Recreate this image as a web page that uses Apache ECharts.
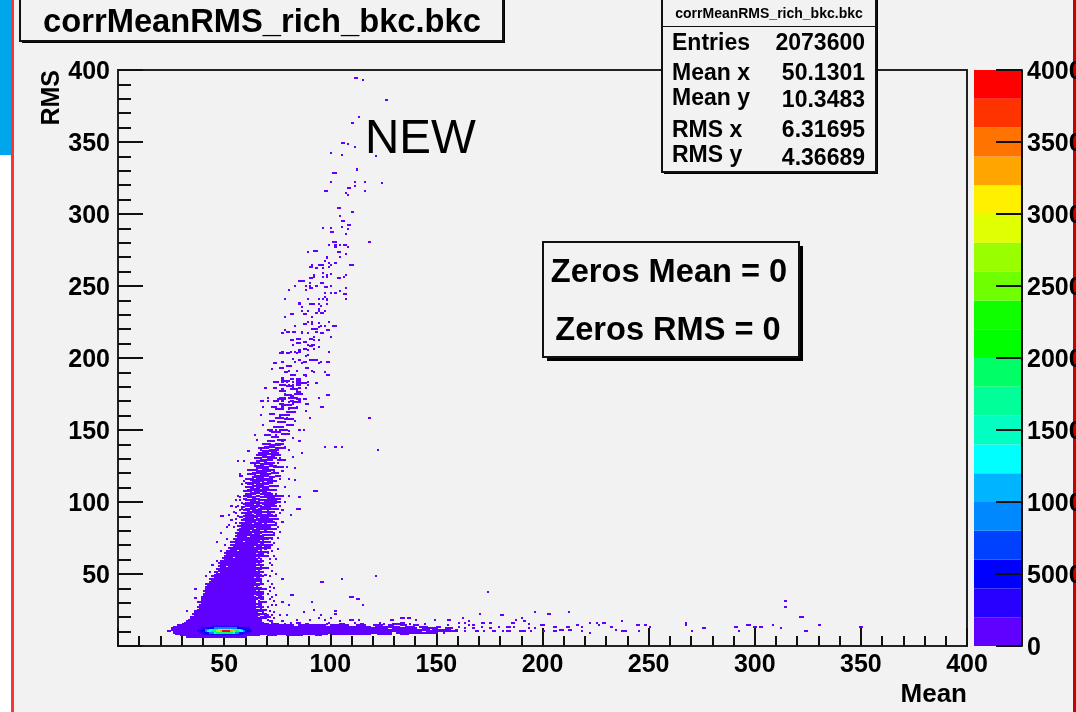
<!DOCTYPE html>
<html>
<head>
<meta charset="utf-8">
<script src="https://cdn.jsdelivr.net/npm/echarts@6/dist/echarts.min.js"></script>
<style>html,body{margin:0;padding:0;background:#f2f2f2}#c{width:1076px;height:712px}</style>
</head>
<body>
<div id="c"></div>
<script>
var FONT = '"Liberation Sans", Arial, sans-serif';
var xTicks = [0, 400, 50];
var yTicks = [0, 400, 50];
var zTicks = [0, 40000, 5000];
var zBinWidth = 2000;
var paletteColors = ['#6000ff','#2800ff','#0000ff','#0040ff','#0088ff','#00b4ff','#00ffff','#00ffc0','#00ff99','#00ff66','#00ff00','#10ff00','#70ff00','#99ff00','#e0ff00','#fff000','#ffa500','#ff7300','#ff3300','#ff0000'];

// histogram rows: [rms, meanFrom, meanTo] — all in the lowest populated colour band
var tailRows = [
[6,32,60],
[7,29,66],[7,70,74],[7,79,86],[7,93,95],
[8,27,98],[8,101,118],[8,122,128],[8,133,136],
[9,26,128],[9,131,150],[9,153,153],
[10,23,24],[10,26,142],[10,145,158],
[11,25,146],[11,148,156],[11,159,159],
[12,25,126],[12,129,140],[12,143,150],[12,154,157],
[13,26,118],[13,121,132],[13,135,139],[13,142,145],[13,150,151],
[14,28,82],[14,85,97],[14,100,108],[14,112,116],[14,120,124],[14,127,129],[14,133,135],[14,139,141],[14,155,155],
[15,30,70],[15,73,75],[15,78,78],[15,88,89],[15,98,98],[15,104,106],[15,114,115],[15,125,125],[15,129,132],[15,137,137],[15,144,144],
[16,31,68],[16,72,72],[16,84,85],[16,99,99],[16,111,111],[16,123,123],[16,133,134]
];
var plumeRowsLow = [
[17,32,67],[17,71,72],[18,33,67],[18,70,70],[19,34,66],[20,34,65],[20,67,67],[21,36,66],[21,69,70],[22,35,66],[23,36,65],[23,68,68],[24,36,66],[25,37,65],[26,38,64],[26,67,67],[27,37,65],[28,38,64],[28,66,67],[29,39,65],[30,38,64],[31,39,64],[31,66,66],[32,39,65],[32,67,68],[33,40,64],[34,39,64],[35,40,63],[35,65,67],[36,40,65],[37,41,64],[38,40,64],[38,66,66],[39,41,65],[40,42,64],[41,41,63],[41,65,65],[42,42,64],[43,42,65],[44,43,64],[44,67,67],[45,44,64],[46,43,65],[47,45,63],[47,65,66],[48,44,64],[49,45,65],[49,67,67],[50,46,64],[51,45,46],[51,48,65],[52,47,64],[52,66,66],[53,46,65],[54,48,65],[55,47,50],[55,52,64],[55,67,67],[56,48,65],[57,47,64],[57,66,66],[58,49,52],[58,54,65],[59,48,65],[60,50,65],[60,67,67]
];
var plumeRightRows = [
[19,67,69],[20,68,70],[22,67,69],[24,67,68],[25,66,69],[27,66,68],[29,66,67],[30,66,69],[33,65,67],[34,66,68],[36,66,68],[37,65,68],[39,66,69],[40,65,67],[42,65,66],[43,66,68],[45,65,67],[46,66,67],[48,65,68],[50,65,66],[51,66,68],[53,66,67],[54,66,69],[56,66,68],[58,66,67],[59,66,68]
];
var plumeRowsHigh = [
[61,49,53],[61,55,64],[61,66,66],[62,50,66],[63,51,65],[64,50,64],[64,66,68],[65,52,66],[66,51,55],[66,57,65],[66,67,67],[67,53,67],[67,69,69],[68,52,66],[69,54,63],[69,65,67],[69,69,70],[70,53,68],[71,55,65],[71,67,68],[72,53,58],[72,60,67],[73,55,66],[73,68,68],[74,54,65],[74,67,70],[75,56,67],[76,55,60],[76,62,68],[77,56,66],[77,68,69],[78,55,62],[78,64,67],[79,57,68],[80,56,61],[80,63,66],[80,69,69],[81,57,63],[81,65,69],[82,58,67],[83,56,60],[83,62,66],[83,68,70],[84,58,68],[85,57,62],[85,64,67],[85,69,69],[86,60,64],[86,66,70],[87,58,68],[88,59,63],[88,65,69],[89,57,58],[89,60,65],[89,67,70],[90,59,66],[90,68,69],[91,60,63],[91,65,69],[92,58,62],[92,64,67],[92,70,71],[93,61,68],[94,59,61],[94,63,67],[94,70,70],[95,60,64],[95,66,69],[96,58,59],[96,62,65],[96,67,71],[97,60,66],[97,69,69],[98,59,63],[98,65,66],[98,68,70],[99,60,61],[99,63,68],[100,62,66],[100,69,71],[101,60,64],[101,66,68],[102,59,60],[102,63,66],[102,70,70],[103,61,64],[103,67,69],[104,60,62],[104,65,66],[104,69,70],
[62,67,70],[63,66,68],[65,67,70],[68,67,71],[70,69,72],[72,68,71],[75,68,72],[77,70,73],[79,69,72],[81,70,74],[82,68,71],[84,69,74],[86,71,73],[87,69,72],[88,70,75],[90,70,74],[91,70,72],[93,69,73],[95,70,75],[97,70,74],[98,71,73],[99,69,72],[100,72,76],[101,69,74],[102,71,75],[103,70,73],[104,71,76]
];
var plumeSpineRows = [
[105,60,64],[105,67,72],[106,62,65],[106,68,71],[107,59,62],[107,64,69],[108,61,67],[108,70,74],[109,62,66],[109,68,70],[110,60,63],[110,66,70],[111,63,68],[111,71,75],[112,61,63],[112,65,70],[113,60,66],[113,68,72],[114,64,67],[114,70,73],[115,62,66],[115,69,72],[116,60,63],[116,65,71],[117,63,68],[117,71,73],[118,64,70],[118,74,76],[119,61,64],[119,67,71],[120,63,69],[120,72,75],[121,66,71],[122,62,65],[122,68,73],[123,65,70],[124,66,70],[124,73,77],[125,64,68],[125,71,74],[126,67,72],[127,62,66],[127,69,73],[128,65,69],[129,67,72],[129,75,78],[130,64,67],[130,70,74],[131,68,73],[132,65,69],[132,72,76],[133,69,73],[134,66,69],[134,72,75],[135,68,74],[136,71,75],[137,66,70],[137,74,78],[138,69,73],[139,71,76],[140,68,71],[140,74,77],
[142,70,73],[143,75,78],[145,72,75],[146,69,71],[147,77,80],[148,72,76],[150,70,72],[150,76,79],[152,73,77],[153,79,82],[155,75,78],[156,71,73],[157,78,82],[158,74,77],[160,76,80],[161,71,73],[162,79,83],[164,74,77],[165,80,84],[166,72,74],[167,77,81],[169,82,85],[171,75,78],[172,80,84],[174,78,81],[175,83,86],[177,76,78],[178,81,84],[180,79,82],[182,85,88],[184,78,80]
];
// hot core: [rms, meanFrom, meanTo, entries], painted low to high
var coreRows = [
[13,44,56,3000],[12,39,61,3000],[11,37,62,3000],[10,37,62,3000],[9,38,61,3000],[8,40,58,3000],
[12,42,58,5000],[11,40,60,5000],[10,39,61,5000],[9,41,58,5000],[8,44,54,5000],
[12,45,55,9000],[11,41,58,9000],[10,41,59,9000],[9,43,56,9000],
[11,43,57,13000],[10,42,58,13000],[9,45,54,13000],
[11,45,54,19000],[10,44,56,19000],[9,46,53,19000],
[11,47,53,27000],[10,46,54,27000],
[10,48,53,33000],[10,49,52,39000]
];
// isolated cells: [mean, rms]
var plumeTopCells = [[111,394],[112,394],[115,393],[126,379],[113,367],[110,363],[105,349],[106,349],[108,348],[111,346],[100,342],[105,341],[121,340],[112,330],[112,331],[101,328],[102,328],[100,322],[111,322],[116,322],[124,321],[111,319],[108,318],[109,318],[97,316],[98,316],[116,316],[107,314],[108,313],[103,304],[104,304],[110,301],[104,298],[105,295],[106,295],[108,292],[109,292],[105,291],[96,290],[100,290],[108,289]];
var plumeUpperCells = [[109,292],[108,289],[100,287],[101,287],[107,286],[101,280],[102,280],[118,280],[99,278],[102,278],[102,277],[104,278],[106,278],[107,278],[108,277],[92,274],[93,274],[89,273],[103,273],[104,273],[107,272],[104,270],[98,269],[98,270],[97,267],[102,266],[99,266],[109,264],[110,264],[96,264],[91,264],[90,263],[91,263],[95,264],[94,264],[93,262],[96,262],[100,264],[99,263],[96,259],[100,258],[92,256],[92,257],[96,256],[98,256],[98,257],[103,255],[104,255],[106,256],[107,257],[90,255],[91,255],[85,253],[86,253],[87,253],[90,252],[95,252],[96,252],[83,250],[88,250],[90,250],[93,250],[100,250],[97,249],[98,249],[90,248],[91,248],[80,247],[88,247],[107,248],[97,245],[100,245],[102,245],[104,246],[106,244],[107,244],[107,241],[97,242],[96,241],[98,240],[98,241],[78,241],[89,241],[94,241],[98,237],[85,238],[85,237],[90,237],[91,237],[92,237],[94,237],[95,236],[86,235],[94,234],[97,232],[86,232],[89,232],[94,232],[95,231],[96,231],[93,231],[81,230],[82,230],[87,230],[88,230],[78,228],[91,228],[91,225],[89,225],[99,225],[87,223],[88,223],[91,223],[94,224],[95,222],[97,222],[101,222],[102,222]];
var plumeMidCells = [[83,222],[91,220],[92,220],[93,220],[94,221],[98,219],[99,219],[78,219],[77,217],[79,218],[80,218],[82,218],[83,218],[86,217],[86,218],[95,217],[96,217],[93,218],[89,217],[100,214],[92,214],[94,212],[92,212],[90,213],[91,213],[84,213],[85,213],[87,211],[88,211],[84,210],[85,210],[81,212],[82,212],[82,209],[89,209],[91,209],[92,209],[90,208],[91,208],[92,206],[94,207],[87,206],[88,206],[85,205],[89,205],[76,203],[77,203],[77,204],[79,203],[80,203],[81,204],[83,204],[84,203],[85,204],[89,202],[99,204],[88,201],[82,199],[90,198],[91,198],[92,198],[93,198],[87,197],[88,197],[85,198],[83,197],[86,196],[95,197],[98,197],[99,197],[94,196],[73,196],[74,196],[77,197],[79,194],[80,194],[76,193],[77,193],[81,194],[88,193],[89,193],[72,192],[80,191],[78,190],[84,191],[79,190],[91,191],[92,190],[81,188],[82,188],[83,188],[87,188],[88,188],[97,190],[98,188],[99,188],[77,186],[77,185],[77,184],[77,183],[84,185],[85,185],[81,185],[82,185],[88,187],[84,184],[85,184],[89,183],[73,183],[74,183],[75,183],[79,183],[82,183],[84,181],[85,181],[84,182],[93,182],[76,181],[77,181],[78,181],[80,181],[82,181],[89,181],[88,179],[69,179],[73,179],[74,179],[82,179],[85,179],[77,178],[78,175],[84,176],[85,176],[84,177],[98,174],[99,174],[81,173],[82,173],[81,174],[76,172],[77,172],[78,172],[94,172],[67,170],[68,170],[70,172],[70,170],[73,170],[74,170],[77,170],[84,171],[85,171],[87,171],[88,171],[81,170],[80,169],[82,168],[76,168],[77,168],[89,168]];
var plumeLowCells = [[67,170],[75,170],[82,170],[85,170],[88,168],[95,166],[96,166],[68,166],[73,166],[77,166],[84,166],[67,160],[76,164],[80,164],[88,163],[90,158],[79,157],[80,157],[79,158],[83,156],[73,156],[76,159],[68,153],[74,150],[79,153],[85,150],[87,150],[80,149],[64,146],[71,149],[65,143],[74,146],[77,142],[82,144],[85,142],[73,139],[78,138],[97,138],[105,138],[102,138],[118,158],[122,136],[61,135],[67,136],[70,134],[74,134],[80,136],[86,134],[56,128],[59,128],[65,130],[68,129],[72,130],[76,130],[82,131],[64,126],[67,124],[70,126],[75,127],[79,124],[83,123],[61,122],[65,121],[68,120],[73,121],[77,121],[62,119],[57,118],[58,118],[57,119],[67,116],[72,116],[76,116],[80,116],[59,114],[63,114],[68,114],[74,114],[83,115],[58,112],[62,110],[65,110],[70,110],[78,110],[92,107],[93,107],[66,106],[70,106],[74,105],[56,104],[59,104],[62,104],[68,103],[77,104],[85,103],[64,100],[58,99],[53,97],[61,97],[67,97],[72,97],[76,97],[84,95],[85,95],[54,93],[58,95],[63,94],[70,93],[77,94],[48,90],[49,90],[56,90],[61,90],[66,91],[74,91],[81,91],[54,82],[51,82]];
var plumeSpineCells = [[71,60],[73,62],[70,64],[72,66],[75,67],[71,69],[73,71],[72,74],[75,75],[71,77],[73,78],[76,79],[72,81],[75,82],[72,84],[74,85],[77,86],[72,87],[74,88],[73,90],[76,92],[73,93],[75,95],[73,97],[74,99],[78,100],[74,101],[76,102],[80,104],[55,85],[53,87],[55,88],[52,91],[55,92],[57,94],[55,96],[56,97],[57,101],[55,101],[57,103]];
var baseSideCells = [[66,24],[68,25],[67,30],[69,30],[73,31],[70,21],[73,23],[76,21],[79,21],[73,19],[77,17],[81,16],[84,18],[90,18],[87,23],[92,25],[91,30],[95,21],[94,19],[97,18],[81,35],[82,35],[77,30],[80,28],[95,44],[96,44],[77,46],[74,50],[105,46],[121,48],[109,34],[110,34],[112,32],[113,32],[115,28],[102,24],[102,22],[67,34],[70,36],[72,43],[66,43],[65,48],[69,49],[74,60],[70,54],[41,48],[43,51],[45,43],[46,43],[41,43],[46,36],[47,36],[36,39],[36,33],[39,34],[39,30],[32,24],[36,24],[34,20],[32,16],[37,30],[44,56],[48,57],[54,56],[46,59],[50,61],[52,64],[48,66],[50,70],[46,72],[51,74],[48,78],[52,84],
[71,20],[72,21],[71,24],[70,27],[72,28],[74,28],[71,32],[72,34],[74,35],[71,38],[71,41],[73,40],[70,45],[71,48],[72,52],[71,57],[72,56]];
var tailCells = [[174,37],[180,21],[181,21],[170,22],[196,23],[202,22],[203,22],[212,23],[100,19],[109,18],[110,18],[113,18],[104,17],[128,18],[129,18],[133,19],[134,19],[136,19],[137,19],[140,18],[149,18],[155,18],[156,18],[162,19],[190,19],[187,18],[165,17],[160,16],[160,13],[159,10],[163,16],[165,14],[163,12],[163,10],[167,14],[167,12],[168,10],[169,10],[171,16],[172,16],[171,13],[172,10],[175,16],[175,12],[176,10],[177,10],[179,13],[181,10],[183,13],[184,13],[183,10],[184,10],[185,16],[186,16],[186,13],[189,10],[190,10],[191,17],[193,15],[193,12],[194,10],[191,10],[196,12],[199,14],[200,14],[200,10],[205,13],[206,13],[205,10],[206,10],[208,11],[209,11],[211,13],[212,13],[212,11],[213,11],[216,14],[218,13],[218,10],[222,16],[225,16],[228,16],[229,16],[226,14],[222,9],[232,13],[234,11],[237,17],[237,10],[238,10],[239,10],[244,14],[245,14],[245,10],[248,14],[250,13],[267,16],[267,14],[270,10],[275,12],[276,12],[290,13],[291,13],[292,10],[296,14],[297,14],[299,13],[300,13],[302,13],[303,13],[308,14],[312,12],[314,31],[314,27],[321,20],[322,20],[323,10],[324,10],[330,14],[349,13],[350,13]];

// Table for the custom series: [meanFrom, meanTo+1, rms, rms+1, entries]
var LOW = 1000;
var cells = [];
[tailRows, plumeRowsLow, plumeRightRows, plumeRowsHigh, plumeSpineRows].forEach(function (rows) {
  rows.forEach(function (r) { cells.push([r[1], r[2] + 1, r[0], r[0] + 1, LOW]); });
});
[plumeTopCells, plumeUpperCells, plumeMidCells, plumeLowCells, plumeSpineCells, baseSideCells, tailCells].forEach(function (list) {
  list.forEach(function (p) { cells.push([p[0], p[0] + 1, p[1], p[1] + 1, LOW]); });
});
coreRows.forEach(function (r) { cells.push([r[1], r[2] + 1, r[0], r[0] + 1, r[3]]); });

var bands = paletteColors.map(function (c, i) { return [i * zBinWidth, (i + 1) * zBinWidth, c]; });

function colorOf(v) {
  return paletteColors[Math.min(paletteColors.length - 1, Math.floor(v / zBinWidth))];
}
function renderCell(params, api) {
  var a = api.coord([api.value(0), api.value(3)]);
  var b = api.coord([api.value(1), api.value(2)]);
  var x0 = Math.round(a[0]), y0 = Math.round(a[1]);
  var x1 = Math.max(x0 + 2, Math.round(b[0])), y1 = Math.max(y0 + 2, Math.round(b[1]));
  return { type: 'rect', shape: { x: x0, y: y0, width: x1 - x0, height: y1 - y0 },
           style: { fill: colorOf(api.value(4)) } };
}
function renderBand(params, api) {
  var a = api.coord([0, api.value(1)]);
  var b = api.coord([1, api.value(0)]);
  return { type: 'rect', shape: { x: a[0], y: a[1], width: b[0] - a[0], height: b[1] - a[1] },
           style: { fill: paletteColors[params.dataIndex] } };
}

function box(x, y, w, h, sh, z) {
  return [
    { type: 'rect', z: z, silent: true, shape: { x: x + sh, y: y + sh, width: w, height: h }, style: { fill: '#000' } },
    { type: 'rect', z: z + 1, silent: true, shape: { x: x, y: y, width: w, height: h }, style: { fill: '#f2f2f2', stroke: '#111', lineWidth: 2 } }
  ];
}
function label(t, x, y, size, align, weight, z) {
  return { type: 'text', z: z, silent: true, style: { text: t, x: x, y: y, fill: '#000', textAlign: align, textVerticalAlign: 'middle',
           font: (weight || 'bold') + ' ' + size + 'px ' + FONT } };
}
var page = [
  { type: 'rect', z: 0, silent: true, shape: { x: 0, y: 0, width: 11, height: 155 }, style: { fill: '#00a6ec' } },
  { type: 'rect', z: 0, silent: true, shape: { x: 0, y: 155, width: 11, height: 557 }, style: { fill: '#ffffff' } },
  { type: 'rect', z: 0, silent: true, shape: { x: 11, y: 0, width: 3, height: 712 }, style: { fill: '#ff3333' } },
  { type: 'rect', z: 0, silent: true, shape: { x: 1073, y: 0, width: 3, height: 712 }, style: { fill: '#c80000' } }
];
var titleBox = box(20, -2, 483, 43, 2, 10);
var statBox = box(662, -2, 214, 174, 2, 10).concat([
  { type: 'rect', z: 12, silent: true, shape: { x: 662, y: 26, width: 214, height: 1 }, style: { fill: '#111' } },
  label('corrMeanRMS_rich_bkc.bkc', 769, 14, 14, 'center', 'bold', 13),
  label('Entries', 672, 44, 23, 'left', 'bold', 13), label('2073600', 865, 44, 23, 'right', 'bold', 13),
  label('Mean x', 672, 74, 23, 'left', 'bold', 13), label('50.1301', 865, 74, 23, 'right', 'bold', 13),
  label('Mean y', 672, 99, 23, 'left', 'bold', 13), label('10.3483', 865, 101, 23, 'right', 'bold', 13),
  label('RMS x', 672, 131, 23, 'left', 'bold', 13), label('6.31695', 865, 131, 23, 'right', 'bold', 13),
  label('RMS y', 672, 156, 23, 'left', 'bold', 13), label('4.36689', 865, 159, 23, 'right', 'bold', 13)
]);
var zerosBox = box(543, 242, 256, 115, 4, 10).concat([
  label('Zeros Mean = 0', 669, 273, 32.6, 'center', 'bold', 13),
  label('Zeros RMS = 0', 668, 331, 32.6, 'center', 'bold', 13)
]);
var newLabel = [label('NEW', 365, 140, 47.5, 'left', 'normal', 13)];

var tickFont = { fontFamily: FONT, fontWeight: 'bold', fontSize: 25, color: '#000' };
function plain(v) { return String(v); }
var chart = echarts.init(document.getElementById('c'), null, { renderer: 'canvas' });
chart.setOption({
  animation: false,
  backgroundColor: '#f2f2f2',
  title: { text: 'corrMeanRMS_rich_bkc.bkc', left: 257, top: 1, textAlign: 'center', z: 20,
           textStyle: { fontFamily: FONT, fontWeight: 'bold', fontSize: 32.7, color: '#000' } },
  graphic: page.concat(titleBox, statBox, zerosBox, newLabel),
  grid: [
    { left: 118, top: 70, width: 849, height: 576, show: true, borderColor: '#222', borderWidth: 2, backgroundColor: 'transparent', outerBoundsMode: 'none' },
    { left: 974, top: 70, width: 48, height: 576, show: false, outerBoundsMode: 'none' }
  ],
  xAxis: [
    { gridIndex: 0, type: 'value', min: xTicks[0], max: xTicks[1], interval: xTicks[2], name: 'Mean', nameLocation: 'end', nameGap: 0,
      nameTextStyle: { fontFamily: FONT, fontWeight: 'bold', fontSize: 26, color: '#000', align: 'right', verticalAlign: 'top', padding: [36, 0, 0, 0] },
      splitLine: { show: false },
      axisLine: { show: true, onZero: false, lineStyle: { color: '#222', width: 2 } },
      axisTick: { inside: true, length: 18, lineStyle: { color: '#111', width: 2 } },
      minorTick: { show: true, splitNumber: 5, length: 10, lineStyle: { color: '#111', width: 2 } },
      axisLabel: Object.assign({ margin: 7, showMinLabel: false, hideOverlap: false, formatter: plain }, tickFont) },
    { gridIndex: 1, type: 'value', min: 0, max: 1, show: false }
  ],
  yAxis: [
    { gridIndex: 0, type: 'value', min: yTicks[0], max: yTicks[1], interval: yTicks[2], name: 'RMS', nameLocation: 'end', nameGap: 0, nameRotate: 90,
      nameTextStyle: { fontFamily: FONT, fontWeight: 'bold', fontSize: 25, color: '#000', align: 'right', verticalAlign: 'bottom', padding: [0, 0, 53, 3] },
      splitLine: { show: false },
      axisLine: { show: true, onZero: false, lineStyle: { color: '#222', width: 2 } },
      axisTick: { inside: true, length: 25, lineStyle: { color: '#111', width: 2 } },
      minorTick: { show: true, splitNumber: 5, length: 13, lineStyle: { color: '#111', width: 2 } },
      axisLabel: Object.assign({ margin: 8, showMinLabel: false, verticalAlign: 'top', lineHeight: 4, formatter: plain }, tickFont) },
    { gridIndex: 1, type: 'value', position: 'right', z: 5, min: zTicks[0], max: zTicks[1], interval: zTicks[2],
      splitLine: { show: false },
      axisLine: { show: true, onZero: false, lineStyle: { color: '#111', width: 2 } },
      axisTick: { inside: true, length: 26, lineStyle: { color: '#111', width: 2 } },
      axisLabel: Object.assign({ margin: 5, verticalAlign: 'top', lineHeight: 4, formatter: plain }, tickFont) }
  ],
  series: [
    { type: 'custom', name: 'corrMeanRMS_rich_bkc.bkc', xAxisIndex: 0, yAxisIndex: 0, coordinateSystem: 'cartesian2d', silent: true, clip: true,
      renderItem: renderCell, encode: { x: [0, 1], y: [2, 3] }, data: cells, z: 3 },
    { type: 'custom', name: 'palette', xAxisIndex: 1, yAxisIndex: 1, coordinateSystem: 'cartesian2d', silent: true,
      renderItem: renderBand, encode: { y: [0, 1] }, data: bands, z: 1 }
  ]
});
</script>
</body>
</html>
